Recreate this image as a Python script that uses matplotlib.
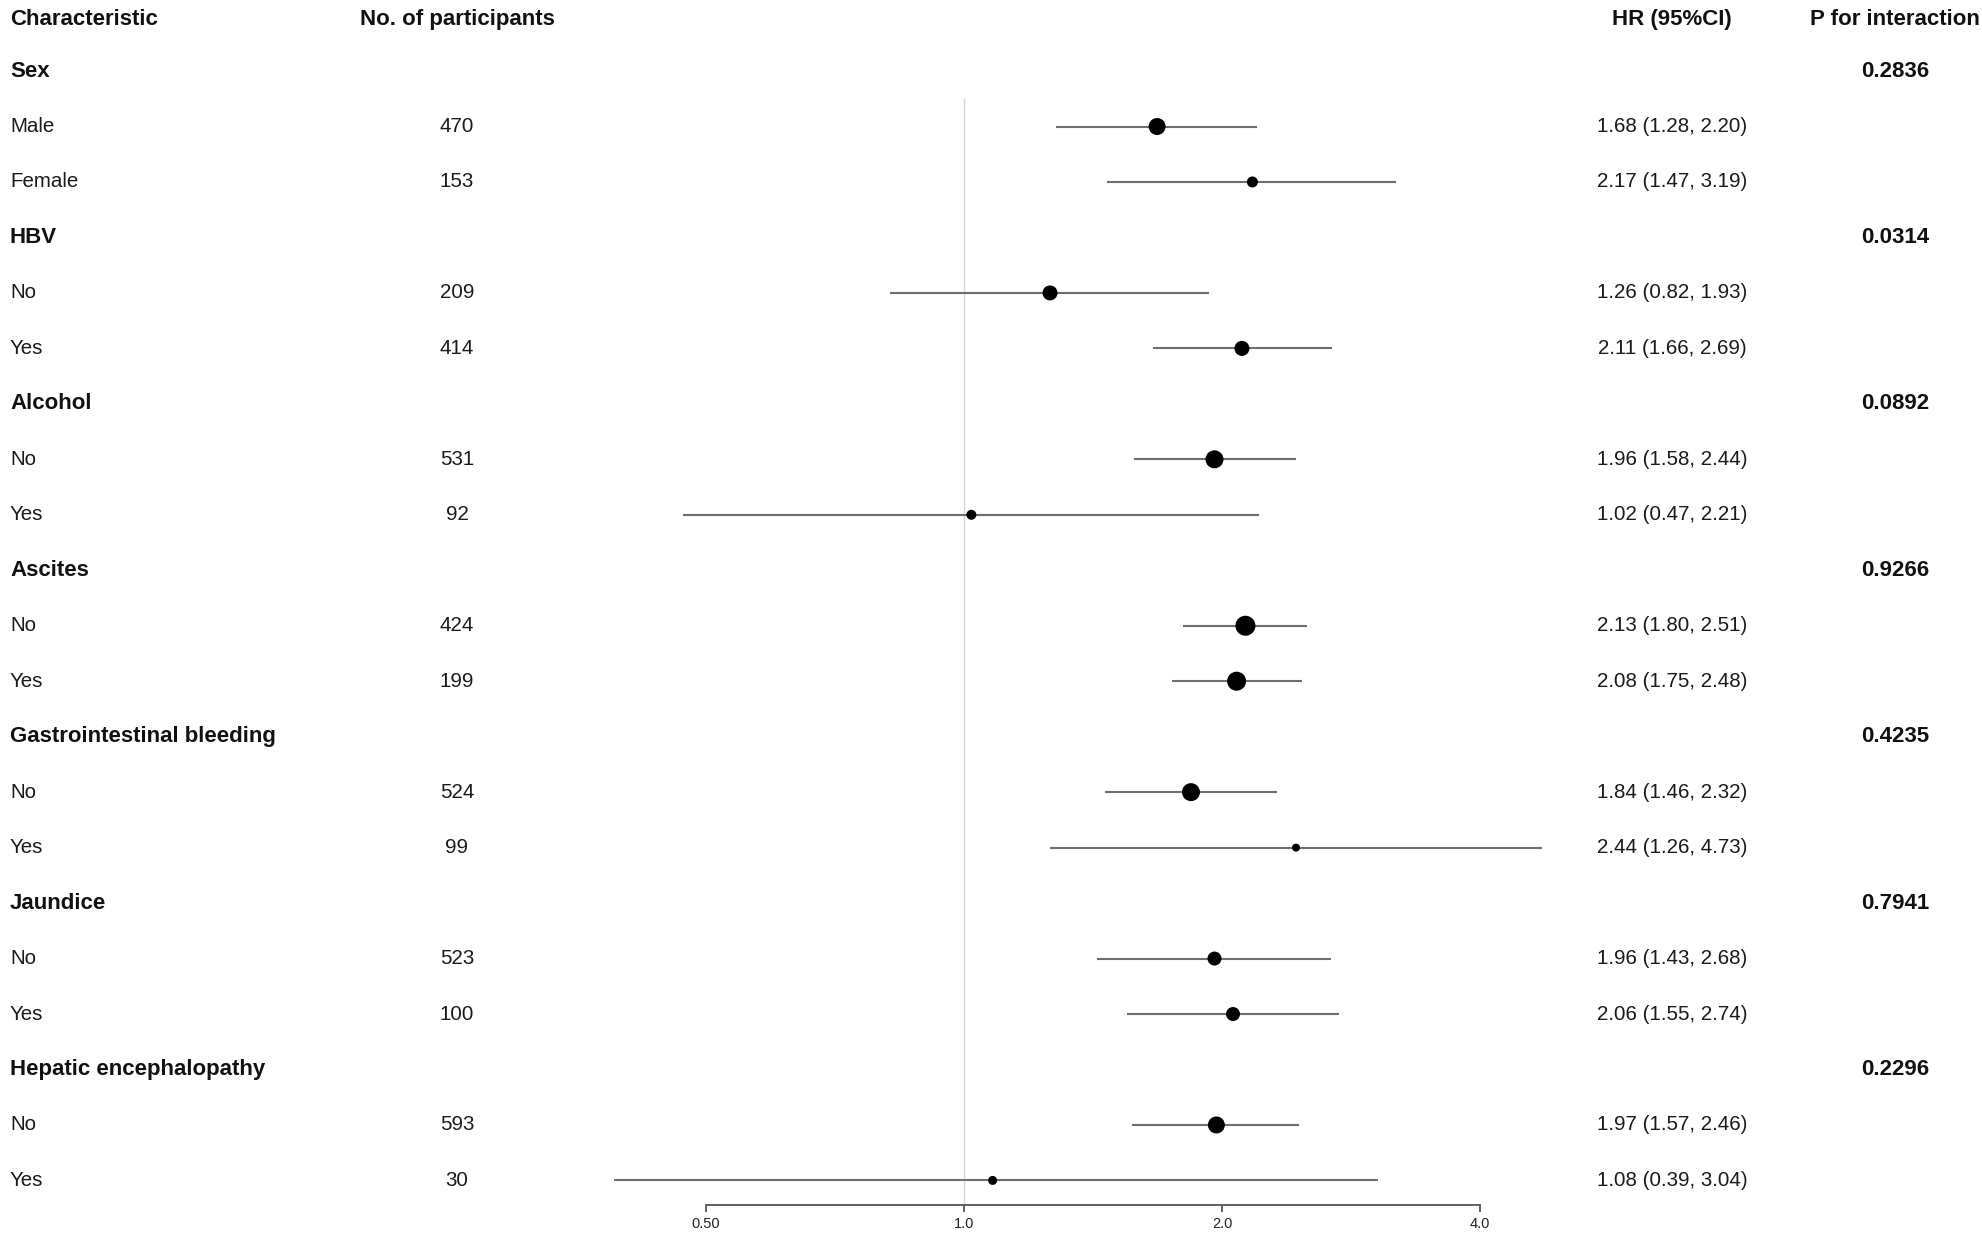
import numpy as np
import matplotlib
matplotlib.use("Agg")
import matplotlib.pyplot as plt
import matplotlib.transforms as mtransforms
from matplotlib.ticker import FixedLocator, FixedFormatter, NullLocator

# ---------------- data ----------------
groups = ["Sex", "HBV", "Alcohol", "Ascites", "Gastrointestinal bleeding",
          "Jaundice", "Hepatic encephalopathy"]
p_interaction = ["0.2836", "0.0314", "0.0892", "0.9266", "0.4235", "0.7941", "0.2296"]
subgroups = [["Male", "Female"], ["No", "Yes"], ["No", "Yes"], ["No", "Yes"],
             ["No", "Yes"], ["No", "Yes"], ["No", "Yes"]]
n_participants = [470, 153, 209, 414, 531, 92, 424, 199, 524, 99, 523, 100, 593, 30]
hr = [1.68, 2.17, 1.26, 2.11, 1.96, 1.02, 2.13, 2.08, 1.84, 2.44, 1.96, 2.06, 1.97, 1.08]
ci_lower = [1.28, 1.47, 0.82, 1.66, 1.58, 0.47, 1.80, 1.75, 1.46, 1.26, 1.43, 1.55, 1.57, 0.39]
ci_upper = [2.20, 3.19, 1.93, 2.69, 2.44, 2.21, 2.51, 2.48, 2.32, 4.73, 2.68, 2.74, 2.46, 3.04]
x_ticks = [0.5, 1.0, 2.0, 4.0]
x_tick_labels = ["0.50", "1.0", "2.0", "4.0"]
headers = ["Characteristic", "No. of participants", "HR (95%CI)", "P for interaction"]

# marker diameters (pixels) - style
marker_diam_px = [17, 11, 15, 15, 18, 10, 20, 19, 18, 8, 14, 14, 17, 9]

# ---------------- figure ----------------
W, H, DPI = 1983, 1234, 100
plt.rcParams['font.family'] = ['Liberation Sans', 'DejaVu Sans']
fig = plt.figure(figsize=(W / DPI, H / DPI), dpi=DPI)

# axes geometry (pixels)
px_per_doubling = 258.0
x_half = 706.0              # pixel of 0.5
ax_left_px = x_half - px_per_doubling
ax_width_px = 5 * px_per_doubling
axis_y_px = 1205.0
row_pitch = 55.47
row2_px = 126.5

ax = fig.add_axes([ax_left_px / W, (H - axis_y_px) / H, ax_width_px / W, axis_y_px / H])
ax.set_xscale('log', base=2)
ax.set_xlim(0.25, 8.0)
y_top = 2 - row2_px / row_pitch
y_bot = 2 + (axis_y_px - row2_px) / row_pitch
ax.set_ylim(y_bot, y_top)
ax.patch.set_visible(False)
for s in ['top', 'left', 'right']:
    ax.spines[s].set_visible(False)
ax.spines['bottom'].set_bounds(0.5, 4.0)
ax.spines['bottom'].set_color('#555555')
ax.spines['bottom'].set_linewidth(1.3)
ax.xaxis.set_major_locator(FixedLocator(x_ticks))
ax.xaxis.set_major_formatter(FixedFormatter(x_tick_labels))
ax.xaxis.set_minor_locator(NullLocator())
ax.tick_params(axis='x', direction='out', length=5, width=1.3, color='#555555',
               labelsize=10.5, pad=4, labelcolor='#222222')
ax.set_yticks([])

# build rows
row_y = []
label_rows = []
r = 1
k = 0
for g, subs in zip(groups, subgroups):
    label_rows.append((r, g, True, None))
    r += 1
    for s in subs:
        label_rows.append((r, s, False, k))
        row_y.append(r)
        r += 1
        k += 1

# reference line at HR = 1
ax.vlines(1.0, 1.48, y_bot, color='#d6d6d6', lw=1.0, zorder=1)

# CI lines & markers
ax.hlines(row_y, ci_lower, ci_upper, color='#6e6e6e', lw=1.5, zorder=2, clip_on=False)
sizes = [(d * 72.0 / DPI) ** 2 for d in marker_diam_px]
ax.scatter(hr, row_y, s=sizes, color='black', zorder=3, clip_on=False, linewidths=0)

# text columns
trans = mtransforms.blended_transform_factory(fig.transFigure, ax.transData)
col_x = [10 / W, 457 / W, 1672 / W, 1895 / W]
fs_b, fs_r = 16, 14.8
header_y = 0.08
ax.text(col_x[0], header_y, headers[0], transform=trans, ha='left', va='center',
        fontsize=fs_b, fontweight='bold', color='#111111')
for j in (1, 2, 3):
    ax.text(col_x[j], header_y, headers[j], transform=trans, ha='center', va='center',
            fontsize=fs_b, fontweight='bold', color='#111111')

gi = 0
for (ry, lab, is_group, idx) in label_rows:
    if is_group:
        ax.text(col_x[0], ry, lab, transform=trans, ha='left', va='center',
                fontsize=fs_b, fontweight='bold', color='#111111')
        ax.text(col_x[3], ry, p_interaction[gi], transform=trans, ha='center', va='center',
                fontsize=fs_b, fontweight='bold', color='#111111')
        gi += 1
    else:
        ax.text(col_x[0], ry, lab, transform=trans, ha='left', va='center',
                fontsize=fs_r, color='#1a1a1a')
        ax.text(col_x[1], ry, str(n_participants[idx]), transform=trans, ha='center',
                va='center', fontsize=fs_r, color='#1a1a1a')
        ax.text(col_x[2], ry, f"{hr[idx]:.2f} ({ci_lower[idx]:.2f}, {ci_upper[idx]:.2f})",
                transform=trans, ha='center', va='center', fontsize=fs_r, color='#1a1a1a')

fig.savefig("out.png", dpi=DPI, facecolor='white')
